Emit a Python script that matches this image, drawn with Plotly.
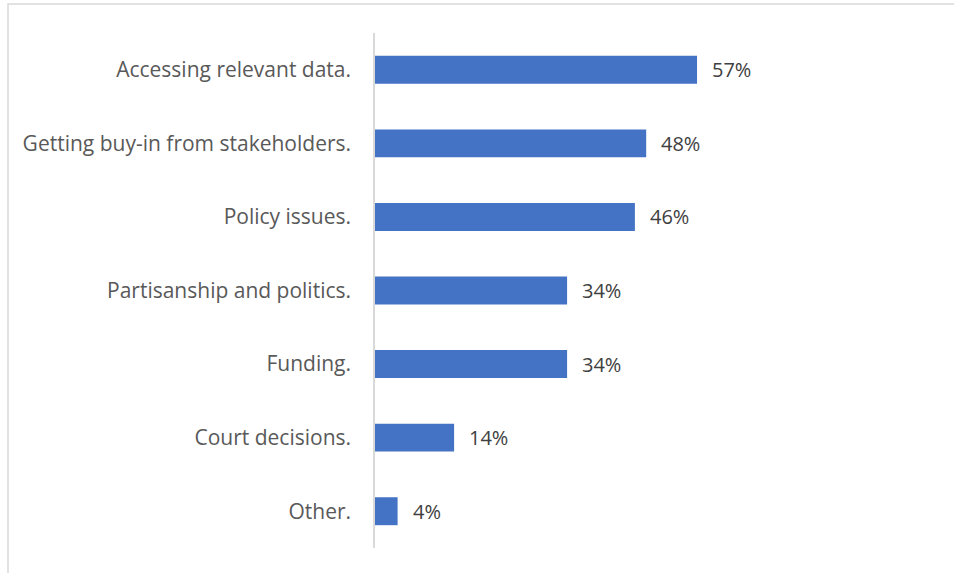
import plotly.graph_objects as go

categories = [
    "Accessing relevant data.",
    "Getting buy-in from stakeholders.",
    "Policy issues.",
    "Partisanship and politics.",
    "Funding.",
    "Court decisions.",
    "Other.",
]
values = [57, 48, 46, 34, 34, 14, 4]

W, H = 954, 573
ml, mr, mt, mb = 375, 10, 33, 25
pw = W - ml - mr
ph = H - mt - mb
px_per_unit = 5.65
xmax = pw / px_per_unit
FONT = "Open Sans, Lato, sans-serif"
FS = 21

fig = go.Figure()
fig.add_trace(go.Bar(
    y=categories, x=values, orientation="h",
    marker=dict(color="#4472C4", line=dict(width=0)),
    hoverinfo="skip",
))

for c, v in zip(categories, values):
    fig.add_annotation(
        x=v, y=c, text=f"{v}%", showarrow=False,
        xanchor="left", yanchor="middle", xshift=13,
        font=dict(family=FONT, size=20, color="#404040"),
    )

# outer chart border
fig.add_shape(
    type="rect", xref="paper", yref="paper",
    x0=(8 - ml) / pw, x1=(W + 10 - ml) / pw,
    y0=(H - mb - (H + 10)) / ph, y1=1 + (mt - 4) / ph,
    line=dict(color="#D9D9D9", width=1.5), fillcolor="rgba(0,0,0,0)",
    layer="below",
)

fig.update_layout(
    width=W, height=H,
    margin=dict(l=ml, r=mr, t=mt, b=mb),
    paper_bgcolor="white", plot_bgcolor="white",
    bargap=0.62,
    showlegend=False,
    font=dict(family=FONT, size=FS, color="#595959"),
)
fig.update_xaxes(range=[0, xmax], visible=False, showgrid=False, zeroline=False)
fig.update_yaxes(
    autorange="reversed", showgrid=False, zeroline=False,
    showline=True, linecolor="#D9D9D9", linewidth=1.5,
    ticks="", ticklabelstandoff=18,
    tickfont=dict(family=FONT, size=FS, color="#595959"),
)

fig.write_html("out.html")
